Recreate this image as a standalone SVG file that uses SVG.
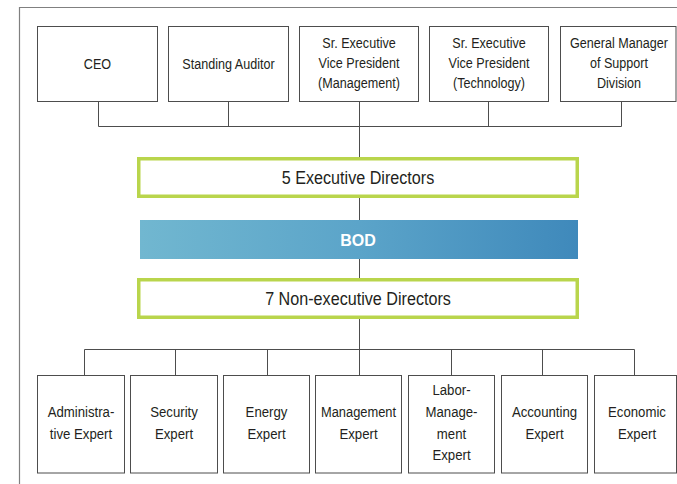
<svg xmlns="http://www.w3.org/2000/svg" width="677" height="484" viewBox="0 0 677 484">
<defs>
<linearGradient id="bodGrad" x1="0" y1="0" x2="1" y2="0">
<stop offset="0" stop-color="#71b7d0"/>
<stop offset="0.5" stop-color="#5ba4c9"/>
<stop offset="1" stop-color="#3f89bb"/>
</linearGradient>
<style>
.t{font-family:"Liberation Sans",Arial,sans-serif;font-size:15px;fill:#231f20;text-anchor:middle;}
.big{font-size:19px;}
.box{fill:#fff;stroke:#4d4d4d;stroke-width:1;}
.gbox{fill:#fff;stroke:#b9d54c;stroke-width:3.5;}
.ln{fill:none;stroke:#4d4d4d;stroke-width:1;}
.frame{fill:none;stroke:#808080;stroke-width:1.2;}
.bod{font-family:"Liberation Sans","Open Sans",Arial,sans-serif;font-size:16px;font-weight:bold;fill:#fff;text-anchor:middle;}
</style>
</defs>
<rect width="677" height="484" fill="#fff"/>
<path class="frame" d="M19.5,484 V7.5 H677"/>
<g id="connectors">
<path class="ln" d="M98.5,101 V126.5 H621.5 V101 M228.5,101 V126.5 M488.5,101 V126.5 M359.5,101 V349.5"/>
<path class="ln" d="M84.5,375 V349.5 H634.5 V375 M175.5,349.5 V375 M267.5,349.5 V375 M359.5,349.5 V375 M451.5,349.5 V375 M542.5,349.5 V375"/>
</g>
<g id="ceo"><rect class="box" x="37.5" y="26.5" width="120" height="75"/><text class="t" transform="translate(97.5,68.5) scale(0.84,1)">CEO</text></g>
<g id="auditor"><rect class="box" x="168.5" y="26.5" width="120" height="75"/><text class="t" transform="translate(228.5,68.5) scale(0.84,1)">Standing Auditor</text></g>
<g id="sevp-mgmt"><rect class="box" x="299.5" y="26.5" width="119" height="75"/><text class="t" transform="translate(359,48) scale(0.84,1)">Sr. Executive</text><text class="t" transform="translate(359,68) scale(0.84,1)">Vice President</text><text class="t" transform="translate(359,88) scale(0.84,1)">(Management)</text></g>
<g id="sevp-tech"><rect class="box" x="429.5" y="26.5" width="119" height="75"/><text class="t" transform="translate(489,48) scale(0.84,1)">Sr. Executive</text><text class="t" transform="translate(489,68) scale(0.84,1)">Vice President</text><text class="t" transform="translate(489,88) scale(0.84,1)">(Technology)</text></g>
<g id="gm"><rect class="box" x="560.5" y="26.5" width="115.5" height="75"/><text class="t" transform="translate(619,48) scale(0.84,1)">General Manager</text><text class="t" transform="translate(619,68) scale(0.84,1)">of Support</text><text class="t" transform="translate(619,88) scale(0.84,1)">Division</text></g>
<g id="exec"><rect class="gbox" x="138.75" y="158.75" width="438.5" height="37.5"/><text class="t big" transform="translate(358,184) scale(0.85,1)">5 Executive Directors</text></g>
<g id="bod"><rect x="140" y="220" width="438" height="39" fill="url(#bodGrad)"/><text class="bod" x="358" y="245.5">BOD</text></g>
<g id="nonexec"><rect class="gbox" x="138.75" y="279.75" width="438.5" height="37.5"/><text class="t big" transform="translate(358,305) scale(0.85,1)">7 Non-executive Directors</text></g>
<g id="admin"><rect class="box" x="37.5" y="375.5" width="87" height="97.5"/><text class="t" transform="translate(81,417) scale(0.88,1)">Administra-</text><text class="t" transform="translate(81,439) scale(0.88,1)">tive Expert</text></g>
<g id="security"><rect class="box" x="130.5" y="375.5" width="87" height="97.5"/><text class="t" transform="translate(174,417) scale(0.88,1)">Security</text><text class="t" transform="translate(174,439) scale(0.88,1)">Expert</text></g>
<g id="energy"><rect class="box" x="223.5" y="375.5" width="86" height="97.5"/><text class="t" transform="translate(266.5,417) scale(0.88,1)">Energy</text><text class="t" transform="translate(266.5,439) scale(0.88,1)">Expert</text></g>
<g id="management"><rect class="box" x="315.5" y="375.5" width="86" height="97.5"/><text class="t" transform="translate(358.5,417) scale(0.86,1)">Management</text><text class="t" transform="translate(358.5,439) scale(0.88,1)">Expert</text></g>
<g id="labor"><rect class="box" x="408.5" y="375.5" width="86" height="97.5"/><text class="t" transform="translate(451.5,395) scale(0.88,1)">Labor-</text><text class="t" transform="translate(451.5,417) scale(0.88,1)">Manage-</text><text class="t" transform="translate(451.5,438.5) scale(0.88,1)">ment</text><text class="t" transform="translate(451.5,460) scale(0.88,1)">Expert</text></g>
<g id="accounting"><rect class="box" x="501.5" y="375.5" width="86" height="97.5"/><text class="t" transform="translate(544.5,417) scale(0.88,1)">Accounting</text><text class="t" transform="translate(544.5,439) scale(0.88,1)">Expert</text></g>
<g id="economic"><rect class="box" x="594.5" y="375.5" width="82" height="97.5"/><text class="t" transform="translate(637,417) scale(0.88,1)">Economic</text><text class="t" transform="translate(637,439) scale(0.88,1)">Expert</text></g>
</svg>
